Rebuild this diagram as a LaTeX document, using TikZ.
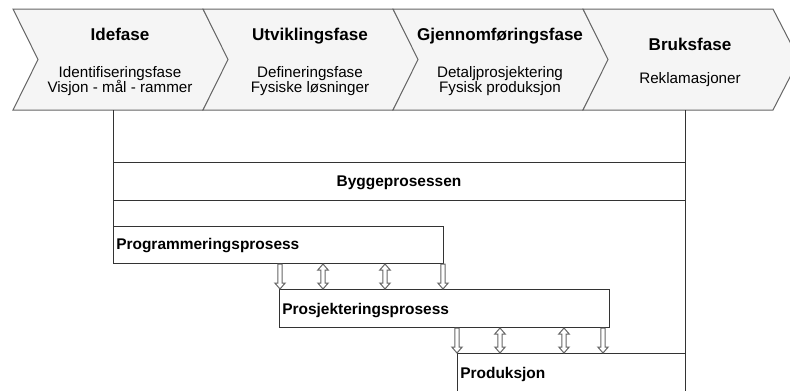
\documentclass[tikz,border=0pt]{standalone}
\usepackage{fontspec}
\setmainfont{Liberation Sans}
\usetikzlibrary{calc}
\definecolor{chevfill}{HTML}{F5F5F5}
\definecolor{chevline}{HTML}{666666}
\definecolor{boxline}{HTML}{333333}
\definecolor{arrline}{HTML}{666666}
\tikzset{
  chev/.style={fill=chevfill, draw=chevline, line width=0.75pt, line join=miter},
  phasehead/.style={font=\fontsize{12.8}{15}\selectfont\bfseries, anchor=base, inner sep=0pt},
  phasesub/.style={font=\fontsize{11.4}{13}\selectfont, anchor=base, inner sep=0pt},
  boxnode/.style={draw=boxline, line width=0.75pt, inner sep=0pt, anchor=north west},
  boxlbl/.style={font=\fontsize{11.6}{13}\selectfont\bfseries, anchor=base west, inner sep=0pt},
  midlbl/.style={font=\fontsize{11.6}{13}\selectfont\bfseries, anchor=base, inner sep=0pt},
  frame/.style={draw=boxline, line width=0.75pt},
  blk/.style={draw=arrline, fill=white, line width=0.75pt, line join=miter},
}
\newcommand\dnarrow[3]{%
  \draw[blk] let \p1=(#2.south), \p2=(#3.north), \p3=(#1,0) in
    ({\x3-1.6pt},\y1) -- ({\x3+1.6pt},\y1) -- ({\x3+1.6pt},{\y2+4.5pt}) --
    ({\x3+3.9pt},{\y2+4.5pt}) -- (\x3,\y2) -- ({\x3-3.9pt},{\y2+4.5pt}) --
    ({\x3-1.6pt},{\y2+4.5pt}) -- cycle;}
\newcommand\dblarrow[3]{%
  \draw[blk] let \p1=(#2.south), \p2=(#3.north), \p3=(#1,0) in
    (\x3,\y1) -- ({\x3+3.9pt},{\y1-4.5pt}) -- ({\x3+1.6pt},{\y1-4.5pt}) --
    ({\x3+1.6pt},{\y2+4.5pt}) -- ({\x3+3.9pt},{\y2+4.5pt}) -- (\x3,\y2) --
    ({\x3-3.9pt},{\y2+4.5pt}) -- ({\x3-1.6pt},{\y2+4.5pt}) --
    ({\x3-1.6pt},{\y1-4.5pt}) -- ({\x3-3.9pt},{\y1-4.5pt}) -- cycle;}
\begin{document}
\begin{tikzpicture}[x=0.75pt,y=-0.75pt]
\useasboundingbox (0,0) rectangle (790,390);
\clip (0,0) rectangle (790,390);
\fill[white] (0,0) rectangle (790,390);

% chevrons
\foreach \i in {0,1,2,3}{
  \pgfmathsetmacro\xo{13+190*\i}
  \draw[chev] (\xo,9) -- ({\xo+190},9) -- ({\xo+216},59.5) -- ({\xo+190},110)
    -- (\xo,110) -- ({\xo+25},59.5) -- cycle;
}
% phase texts
\node[phasehead] (h1) at (120,40.5) {Idefase};
\node[phasesub] (s1a) at (120,77) {Identifiseringsfase};
\node[phasesub] (s1b) at (120,92.5) {Visjon - mål - rammer};
\node[phasehead] (h2) at (310,40.5) {Utviklingsfase};
\node[phasesub] (s2a) at (310,77) {Defineringsfase};
\node[phasesub] (s2b) at (310,92.5) {Fysiske løsninger};
\node[phasehead] (h3) at (500,40.5) {Gjennomføringsfase};
\node[phasesub] (s3a) at (500,77) {Detaljprosjektering};
\node[phasesub] (s3b) at (500,92.5) {Fysisk produksjon};
\node[phasehead] (h4) at (690,50) {Bruksfase};
\node[phasesub] (s4a) at (690,83.5) {Reklamasjoner};

% frame lines
\coordinate (lt) at (113,110);
\coordinate (rt) at (685,110);
\coordinate (rb) at (685,390);

% boxes
\node[boxnode, minimum width=429pt, minimum height=28.5pt] (bygg) at (113,162) {};
\node[midlbl] at (399,186.5) {Byggeprosessen};
\node[boxnode, minimum width=247.5pt, minimum height=27.75pt] (prog) at (113,226) {};
\node[boxlbl] at (116,249.5) {Programmeringsprosess};
\node[boxnode, minimum width=247.5pt, minimum height=28.5pt] (proj) at (279,289) {};
\node[boxlbl] at (282,314) {Prosjekteringsprosess};
\node[boxnode, minimum width=171pt, minimum height=36pt] (prod) at (457,353) {};
\node[boxlbl] at (460,378) {Produksjon};

\draw[frame] (lt) -- (prog.north west);
\draw[frame] (rt) -- (rb);

% arrows
\dnarrow{280}{prog}{proj}
\dblarrow{323}{prog}{proj}
\dblarrow{385}{prog}{proj}
\dnarrow{443}{prog}{proj}
\dnarrow{457}{proj}{prod}
\dblarrow{500}{proj}{prod}
\dblarrow{564}{proj}{prod}
\dnarrow{603}{proj}{prod}
\end{tikzpicture}
\end{document}
